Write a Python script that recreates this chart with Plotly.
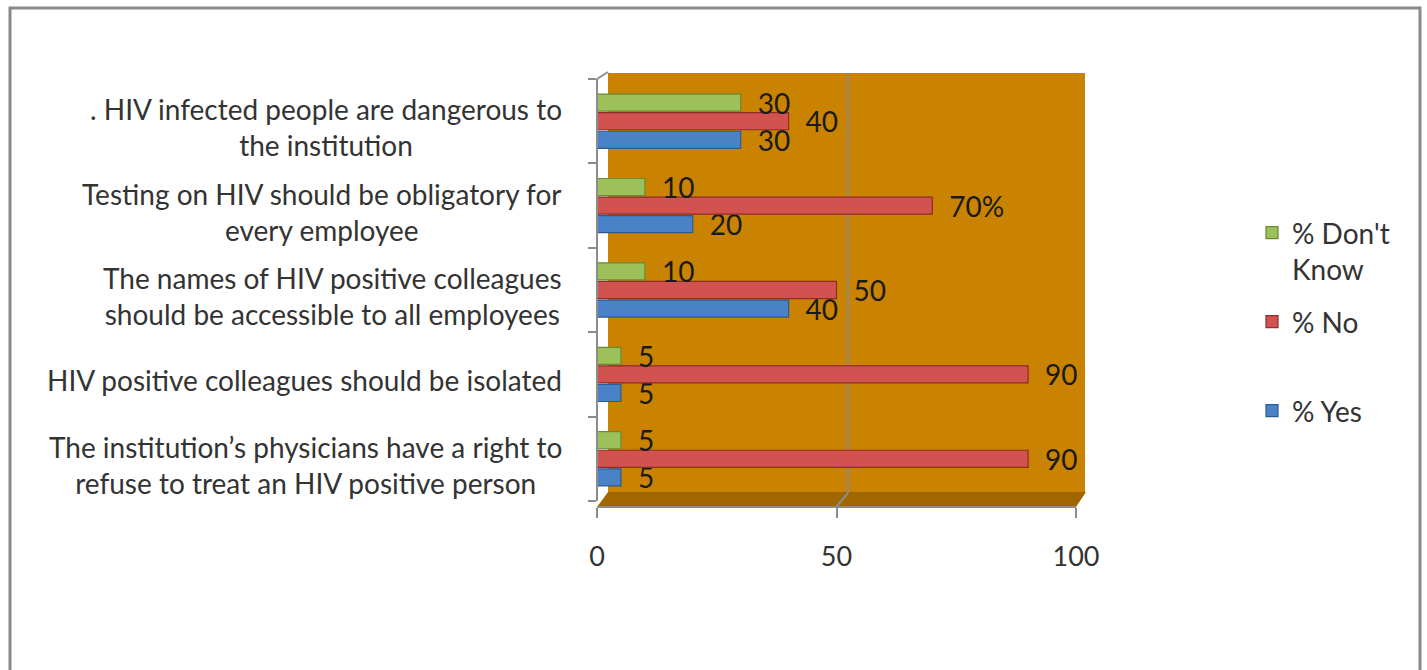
import plotly.graph_objects as go

# Survey statements (one list of display lines per statement, top to bottom)
questions = [
    [". HIV infected people are dangerous to", "the institution"],
    ["Testing on HIV should be obligatory for", "every employee"],
    ["The names of HIV positive colleagues", "should be accessible to all employees"],
    ["HIV positive colleagues should be isolated"],
    ["The institution\u2019s physicians have a right to", "refuse to treat an HIV positive person"],
]
pct_yes = [30, 20, 40, 5, 5]
pct_no = [40, 70, 50, 90, 90]
pct_dont_know = [30, 10, 10, 5, 5]
no_label_suffix = ["", "%", "", "", ""]
x_ticks = [0, 50, 100]

W, H = 1427, 670
FONT = "Lato"
TEXT_COL = "#333333"
AXIS_COL = "#8c8c8c"

# plot frame in pixels
L, R = 597, 1076
T, B = 79, 507
BAR_BOTTOM = 501


def px(x):
    return (x - L) / (R - L)


def py(y):
    return (B - y) / (B - T)


keys = [" ".join(q) for q in questions]

fig = go.Figure()
series = [
    ("% Yes", pct_yes, [""] * len(pct_yes), "#4A82C8", "#2E5A92", "legend3"),
    ("% No", pct_no, no_label_suffix, "#D2524F", "#8E2C2A", "legend2"),
    ("% Don't<br>Know", pct_dont_know, [""] * len(pct_dont_know), "#9CC15A", "#6A8A33", "legend"),
]
for name, vals, suffix, col, edge, leg in series:
    fig.add_trace(go.Bar(
        y=keys, x=vals, orientation="h", name=name,
        marker=dict(color=col, line=dict(color=edge, width=1.2)),
        text=[f"{v}{s}" for v, s in zip(vals, suffix)],
        texttemplate="\u2002%{text}",
        textposition="outside", constraintext="none", cliponaxis=False,
        textfont=dict(family=FONT, size=28, color="#1a1a1a"),
        legend=leg, showlegend=True,
    ))

shapes = [
    # back wall
    dict(type="rect", xref="paper", yref="paper", layer="below",
         x0=px(608), x1=px(1085), y0=py(493), y1=py(73),
         fillcolor="#C98300", line=dict(width=0)),
    # floor slab
    dict(type="path", xref="paper", yref="paper", layer="below",
         path=f"M{px(597)},{py(507)} L{px(1076)},{py(507)} L{px(1086)},{py(492)} L{px(608)},{py(492)} Z",
         fillcolor="#A06700", line=dict(width=0)),
    # wall gridline at 50
    dict(type="line", xref="paper", yref="paper", layer="below",
         x0=px(848), x1=px(848), y0=py(493), y1=py(73),
         line=dict(color=AXIS_COL, width=2)),
    dict(type="line", xref="paper", yref="paper", layer="below",
         x0=px(848), x1=px(836), y0=py(493), y1=py(507),
         line=dict(color=AXIS_COL, width=2)),
    # top of the side wall edge
    dict(type="line", xref="paper", yref="paper",
         x0=px(597), x1=px(608), y0=py(79), y1=py(72),
         line=dict(color=AXIS_COL, width=2)),
    # outer chart border
    dict(type="rect", xref="paper", yref="paper",
         x0=px(10), x1=px(1420), y0=py(690), y1=py(8),
         line=dict(color="#8a8a8a", width=3), fillcolor="rgba(0,0,0,0)"),
]

annotations = [
    dict(text="<br>".join(q), x=px(564), xref="paper", xanchor="right",
         y=k, yref="y", yshift=-6, align="center", showarrow=False,
         font=dict(family=FONT, size=28, color=TEXT_COL))
    for q, k in zip(questions, keys)
]

legend_common = dict(xanchor="left", yanchor="top", bgcolor="rgba(0,0,0,0)",
                     font=dict(family=FONT, size=28, color=TEXT_COL), valign="top")

fig.update_layout(
    width=W, height=H,
    margin=dict(l=L, r=W - R, t=T, b=H - B, pad=0),
    paper_bgcolor="white", plot_bgcolor="rgba(0,0,0,0)",
    barmode="group", bargap=0.34, bargroupgap=0.08,
    font=dict(family=FONT, size=28, color=TEXT_COL),
    showlegend=True,
    xaxis=dict(range=[0, 100], tickvals=x_ticks, ticks="outside", ticklen=10,
               tickcolor=AXIS_COL, tickwidth=2, showline=True, linecolor=AXIS_COL,
               linewidth=2, showgrid=False, zeroline=False, anchor="free", position=0,
               ticklabelstandoff=16, tickfont=dict(family=FONT, size=27, color=TEXT_COL)),
    yaxis=dict(domain=[py(BAR_BOTTOM), 1], type="category", categoryorder="array",
               categoryarray=keys[::-1], range=[-0.5, len(keys) - 0.5],
               tickson="boundaries", ticks="outside", ticklen=8, tickcolor=AXIS_COL,
               tickwidth=2, showline=True, linecolor=AXIS_COL, linewidth=2,
               showticklabels=False, showgrid=False, zeroline=False,
               anchor="free", position=0),
    legend=dict(x=px(1252), y=py(208), **legend_common),
    legend2=dict(x=px(1252), y=py(297), **legend_common),
    legend3=dict(x=px(1252), y=py(386), **legend_common),
    shapes=shapes,
    annotations=annotations,
)

fig.write_html("out.html")
